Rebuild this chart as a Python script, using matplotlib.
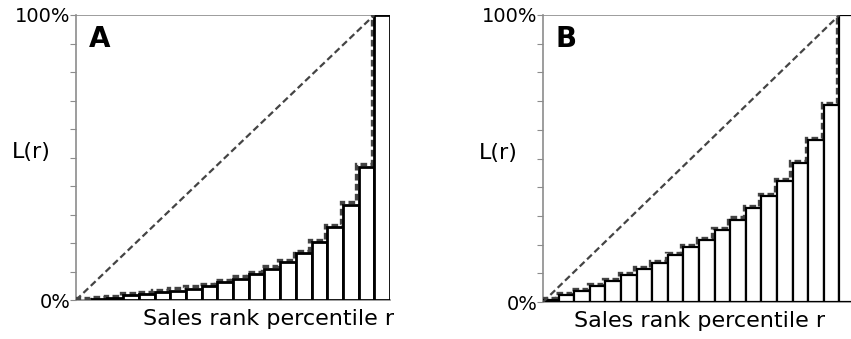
import numpy as np
import matplotlib
matplotlib.use('Agg')
import matplotlib.pyplot as plt
import matplotlib.transforms as mtransforms

# cumulative share L(r) per sales-rank bin (percent), 20 bins
lorenz_a = [0.0, 0.35, 0.8, 1.6, 2.2, 2.7, 3.3, 4.0, 5.0, 6.2, 7.5, 9.1,
            11.0, 13.3, 16.4, 20.2, 25.7, 33.5, 46.8, 100.0]
lorenz_b = [0.7, 2.3, 3.8, 5.6, 7.3, 9.5, 11.4, 13.6, 16.3, 19.1, 21.7, 25.0,
            28.7, 32.6, 36.9, 42.1, 48.4, 56.4, 68.6, 100.0]
panel_names = ['A', 'B']
tick_labels = ['0%'] + [''] * 9 + ['100%']

GRAY = '#8c8c8c'
DASH = '#444444'


def draw_panel(fig, rect, values, name, edge_lw, xlabel_x):
	ax = fig.add_axes(rect)
	h = np.asarray(values, dtype=float)
	n = len(h)
	edges = np.arange(n + 1)
	x = edges[:-1]

	# dashed lorenz steps, nudged a bit up/left so they sit outside the bar edges
	shift = mtransforms.ScaledTranslation(-2.2 / 100, 2.2 / 100, fig.dpi_scale_trans)
	ax.stairs(h, edges, baseline=None, color=DASH, lw=2.4, ls=(0, (2.0, 1.0)),
		transform=ax.transData + shift, zorder=1)

	keep = h > 0
	ax.bar(x[keep], h[keep], width=1, align='edge', facecolor='white',
		edgecolor='black', lw=edge_lw, zorder=2)

	# line of equality
	ax.plot([0, n - 1], [0, 100], color=DASH, lw=1.6, ls=(0, (3, 1.6)), zorder=3)
	ax.hlines(100, 0, n - 1, color=GRAY, lw=1.2, zorder=0.5)

	ax.set_xlim(0, n)
	ax.set_ylim(0, 100)
	for s in ['top', 'right']:
		ax.spines[s].set_visible(False)
	for s in ['left', 'bottom']:
		ax.spines[s].set_color(GRAY)
		ax.spines[s].set_linewidth(1.2)
	ax.spines['left'].set_zorder(0.5)
	ax.spines['bottom'].set_zorder(0.5)
	ax.set_xticks([])
	ax.set_yticks(np.linspace(0, 100, 11))
	ax.set_yticklabels(tick_labels)
	ax.tick_params(axis='y', direction='out', length=4, color=GRAY, pad=0, labelsize=14)

	ax.text(0.04, 0.965, name, transform=ax.transAxes, fontsize=20,
		fontweight='bold', va='top', ha='left')
	ax.text(xlabel_x, -0.03, 'Sales rank percentile r', transform=ax.transAxes,
		fontsize=16, ha='center', va='top')
	ax.text(-0.205, 0.52, 'L(r)', transform=ax.transAxes, fontsize=16,
		ha='left', va='center')
	return ax


def main():
	fig = plt.figure(figsize=(8.51, 3.39), dpi=100)
	W, H = 851.0, 339.0
	draw_panel(fig, [76 / W, 1 - 300 / H, 314 / W, 285 / H], lorenz_a,
		panel_names[0], 2.0, 0.613)
	draw_panel(fig, [543 / W, 1 - 302 / H, 312 / W, 287 / H], lorenz_b,
		panel_names[1], 1.6, 0.503)
	fig.savefig('out.png', dpi=100)


if __name__ == '__main__':
	main()
